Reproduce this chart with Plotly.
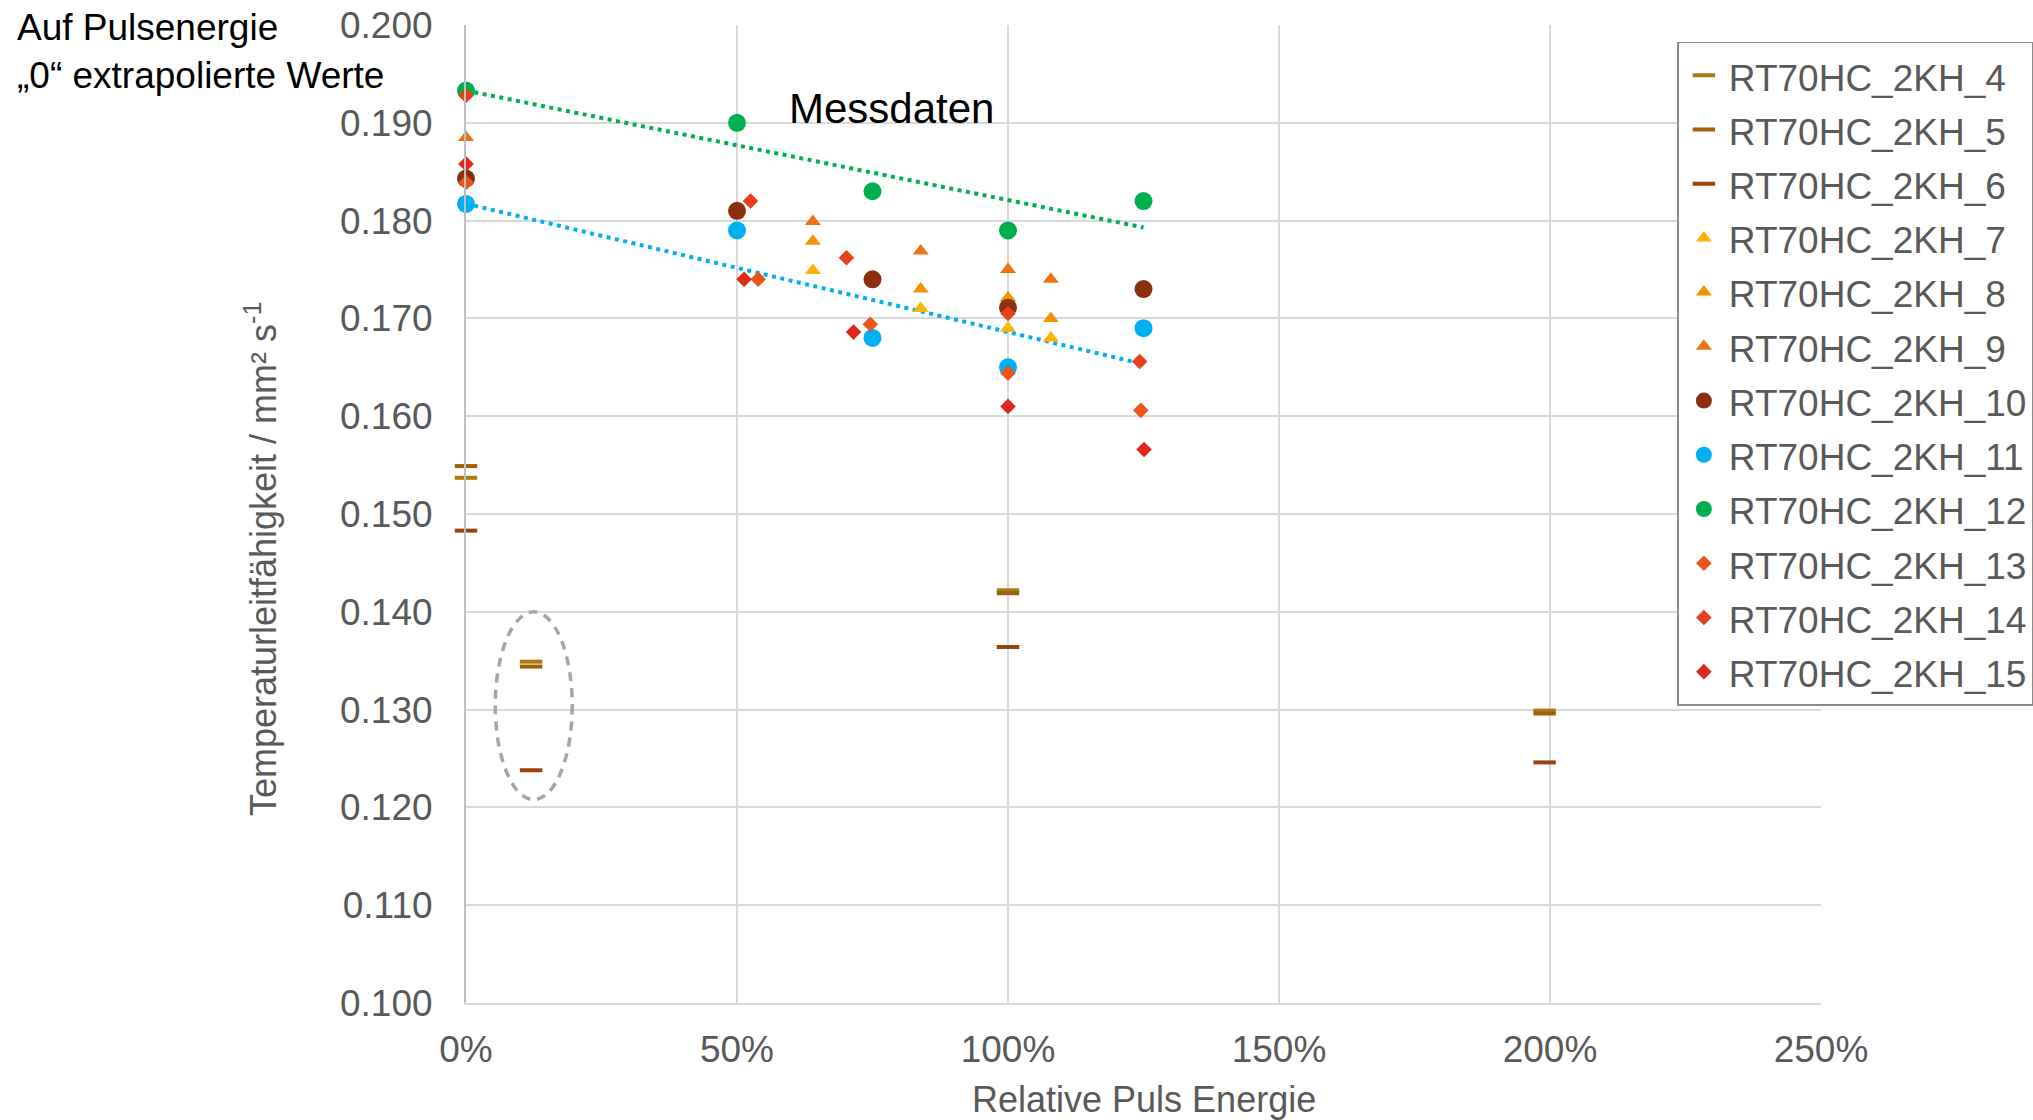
import numpy as np
import plotly.graph_objects as go

FONT = "Liberation Sans, Arial, sans-serif"
GRAY_TXT = "#595959"

# Relative pulse energy (%) and thermal diffusivity (mm²/s) per sample
x_rt4 = [0, 12, 100, 199]
y_rt4 = [0.1537, 0.1349, 0.1422, 0.1299]
x_rt5 = [0, 12, 100, 199]
y_rt5 = [0.1549, 0.1344, 0.1419, 0.1296]
x_rt6 = [0, 12, 100, 199]
y_rt6 = [0.1483, 0.1238, 0.1364, 0.1246]

x_rt7 = [0, 64, 83.9, 100, 107.9]
y_rt7 = [0.1845, 0.1749, 0.1710, 0.1690, 0.1680]
x_rt8 = [0, 64, 83.9, 100, 107.9]
y_rt8 = [0.1847, 0.1779, 0.1730, 0.1721, 0.1700]
x_rt9 = [0, 64, 83.9, 100, 107.9]
y_rt9 = [0.1885, 0.1799, 0.1769, 0.1750, 0.1740]

x_rt10 = [0, 50, 75, 100, 125]
y_rt10 = [0.1843, 0.1810, 0.1740, 0.1711, 0.1730]
x_rt11 = [0, 50, 75, 100, 125]
y_rt11 = [0.1817, 0.1790, 0.1680, 0.1650, 0.1690]
x_rt12 = [0, 50, 75, 100, 125]
y_rt12 = [0.1933, 0.1900, 0.1830, 0.1790, 0.1820]

x_rt13 = [0, 53.9, 74.6, 100, 124.5]
y_rt13 = [0.1839, 0.1740, 0.1694, 0.1644, 0.1606]
x_rt14 = [0, 52.5, 70.2, 100, 124.3]
y_rt14 = [0.1928, 0.1820, 0.1762, 0.1705, 0.1656]
x_rt15 = [0, 51.3, 71.5, 100, 125.1]
y_rt15 = [0.1858, 0.1740, 0.1686, 0.1610, 0.1566]

x_ticks = [0, 50, 100, 150, 200, 250]
x_tick_labels = ["0%", "50%", "100%", "150%", "200%", "250%"]

series = [
    ("RT70HC_2KH_4", x_rt4, y_rt4, "dash", "#A67C0C"),
    ("RT70HC_2KH_5", x_rt5, y_rt5, "dash", "#9C600E"),
    ("RT70HC_2KH_6", x_rt6, y_rt6, "dash", "#98420C"),
    ("RT70HC_2KH_7", x_rt7, y_rt7, "triangle-up", "#FBB400"),
    ("RT70HC_2KH_8", x_rt8, y_rt8, "triangle-up", "#F39406"),
    ("RT70HC_2KH_9", x_rt9, y_rt9, "triangle-up", "#EE7314"),
    ("RT70HC_2KH_10", x_rt10, y_rt10, "circle", "#8B2F0E"),
    ("RT70HC_2KH_11", x_rt11, y_rt11, "circle", "#00B0F0"),
    ("RT70HC_2KH_12", x_rt12, y_rt12, "circle", "#00B050"),
    ("RT70HC_2KH_13", x_rt13, y_rt13, "diamond", "#E8561A"),
    ("RT70HC_2KH_14", x_rt14, y_rt14, "diamond", "#E6401C"),
    ("RT70HC_2KH_15", x_rt15, y_rt15, "diamond", "#E0281C"),
]

fig = go.Figure()


def linear_trend(xs, ys, color):
    k, d = np.polyfit(xs, ys, 1)
    xt = np.array([min(xs), max(xs)])
    fig.add_trace(go.Scatter(
        x=xt, y=k * xt + d, mode="lines", showlegend=False, hoverinfo="skip",
        line=dict(color=color, width=4, dash="4px,4.5px"), cliponaxis=False,
    ))


# dotted linear trendlines for samples 12 and 11
linear_trend(x_rt12, y_rt12, "#00B050")
linear_trend(x_rt11, y_rt11, "#00B0F0")

for name, xs, ys, sym, col in series:
    if sym == "dash":
        marker = dict(symbol="line-ew", size=16, line=dict(color=col, width=4), color=col)
    elif sym == "circle":
        marker = dict(symbol="circle", size=18, color=col, line=dict(width=0))
    elif sym == "triangle-up":
        marker = dict(symbol="triangle-up", size=14, color=col, line=dict(width=0))
    else:
        marker = dict(symbol="diamond", size=12, color=col, line=dict(width=0))
    fig.add_trace(go.Scatter(
        x=xs, y=ys, mode="markers", marker=marker, cliponaxis=False,
        name=f'<span style="font-size:37px">{name}</span>',
    ))

# dashed ellipse around the low-energy group
fig.add_shape(type="circle", xref="x", yref="y", x0=5.4, x1=19.6, y0=0.1208, y1=0.1400,
              line=dict(color="#A6A6A6", width=3.5, dash="9px,7px"))

fig.add_annotation(x=59.3, y=0.19146, xref="x", yref="y", text="Messdaten",
                   showarrow=False, xanchor="left", yanchor="middle",
                   font=dict(family=FONT, size=42, color="#000000"))
fig.add_annotation(x=-0.333, y=1.02, xref="paper", yref="paper",
                   text="Auf Pulsenergie<br>„0“ extrapolierte Werte",
                   showarrow=False, xanchor="left", yanchor="top", align="left",
                   font=dict(family=FONT, size=37, color="#000000"))
fig.add_annotation(x=0.5, y=1 - (1099.5 - 25.5) / 978, xref="paper", yref="paper",
                   text="Relative Puls Energie",
                   showarrow=False, xanchor="center", yanchor="middle",
                   font=dict(family=FONT, size=36, color=GRAY_TXT))
fig.add_annotation(x=-0.1512, y=0.454, xref="paper", yref="paper",
                   text="Temperaturleitfähigkeit / mm² s<sup>-1</sup>",
                   showarrow=False, textangle=-90, xanchor="center", yanchor="middle",
                   font=dict(family=FONT, size=36, color=GRAY_TXT))

fig.update_layout(
    width=2033, height=1120,
    margin=dict(l=466, r=212, t=25, b=117, autoexpand=False),
    paper_bgcolor="white", plot_bgcolor="white",
    font=dict(family=FONT, size=36, color=GRAY_TXT),
    showlegend=True,
    legend=dict(
        x=0.894, y=0.983, xanchor="left", yanchor="top",
        bgcolor="white", bordercolor="#8C8C8C", borderwidth=1.5,
        font=dict(family=FONT, size=39.4, color=GRAY_TXT),
        itemsizing="trace", itemwidth=40,
    ),
    xaxis=dict(
        range=[0, 250], tickvals=x_ticks, ticktext=x_tick_labels,
        showgrid=True, gridcolor="#D9D9D9", gridwidth=2,
        showline=True, linecolor="#D9D9D9", linewidth=2,
        zeroline=False, ticks="", ticklabelstandoff=13,
        tickfont=dict(family=FONT, size=37, color=GRAY_TXT),
    ),
    yaxis=dict(
        range=[0.1, 0.2], dtick=0.01, tick0=0.1, tickformat=".3f",
        showgrid=True, gridcolor="#D9D9D9", gridwidth=2,
        showline=True, linecolor="#BFBFBF", linewidth=2,
        zeroline=False, ticks="", ticklabelstandoff=24,
        tickfont=dict(family=FONT, size=37, color=GRAY_TXT),
    ),
)

fig.write_html("out.html")
